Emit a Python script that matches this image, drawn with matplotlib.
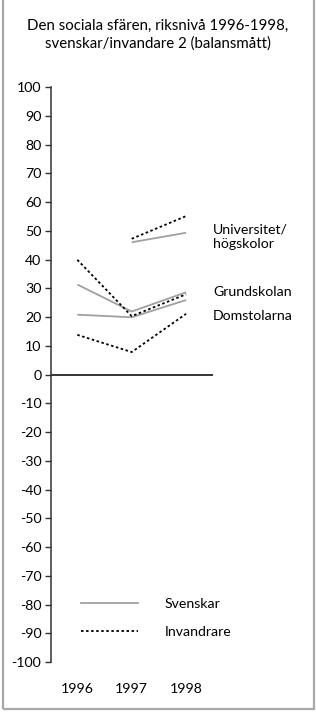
import matplotlib.pyplot as plt
from matplotlib.patches import Rectangle
from matplotlib.lines import Line2D

plt.rcParams['font.family'] = ['Lato', 'DejaVu Sans']

years = ['1996', '1997', '1998']
yticks = list(range(-100, 101, 10))

# Svenskar (solid gray)
sv_grund = [31.3, 21.9, 28.6]
sv_dom = [20.8, 19.9, 25.9]
sv_univ = [None, 46.0, 49.3]
# Invandrare (dotted black)
inv_grund = [39.9, 20.3, 27.9]
inv_dom = [13.8, 7.8, 21.1]
inv_univ = [None, 47.2, 55.1]

series_labels = ['Universitet/\nhögskolor', 'Grundskolan', 'Domstolarna']
label_y = [47.8, 28.7, 20.3]

W, H = 316, 713
fig = plt.figure(figsize=(W / 100, H / 100), dpi=100)
ax = fig.add_axes([51 / W, (H - 662) / H, (213 - 51) / W, 575 / H])


def xs(vals):
    return [i for i, v in enumerate(vals) if v is not None]


def ys(vals):
    return [v for v in vals if v is not None]


gray = '#a0a0a0'
for vals in (sv_grund, sv_dom, sv_univ):
    ax.plot(xs(vals), ys(vals), color=gray, lw=1.3, solid_capstyle='butt')
for vals in (inv_grund, inv_dom, inv_univ):
    ax.plot(xs(vals), ys(vals), color='black', lw=1.3, dashes=(1.4, 1.4))

ax.axhline(0, color='black', lw=1.1)

fs = 10.2
ax.set_xlim(-0.484, 2.495)
ax.set_ylim(-100, 100)
ax.set_yticks(yticks)
ax.set_yticklabels([str(t) for t in yticks], fontsize=fs)
ax.tick_params(axis='y', direction='out', length=4, width=1, color='#333333', pad=3)
ax.set_xticks(range(len(years)))
ax.set_xticklabels(years, fontsize=fs)
ax.tick_params(axis='x', length=0, pad=15)
for s in ('top', 'right', 'bottom'):
    ax.spines[s].set_visible(False)
ax.spines['left'].set_color('#333333')
ax.spines['left'].set_linewidth(1.1)

for lab, yv in zip(series_labels, label_y):
    ax.text(2.495, yv, lab, fontsize=fs, va='center', ha='left', linespacing=1.25)

# legend
handles = [Line2D([], [], color=gray, lw=1.3),
           Line2D([], [], color='black', lw=1.3, dashes=(1.4, 1.4))]
fig.legend(handles, ['Svenskar', 'Invandrare'], loc='upper left',
           bbox_to_anchor=(81 / W, (H - 598) / H), frameon=False, fontsize=fs,
           handlelength=4.0, handletextpad=1.9, labelspacing=1.1,
           borderpad=0, borderaxespad=0)

fig.suptitle('Den sociala sfären, riksnivå 1996-1998,\nsvenskar/invandare 2 (balansmått)',
             x=0.5, y=1 - 19 / H, va='top', fontsize=10.8, linespacing=1.3)

fig.patches.append(Rectangle((2.5 / W, 4.5 / H), 311.5 / W, 1.2, transform=fig.transFigure,
                             fill=False, edgecolor='#a8a8a8', lw=1.6))

fig.savefig('out.png', dpi=100)
